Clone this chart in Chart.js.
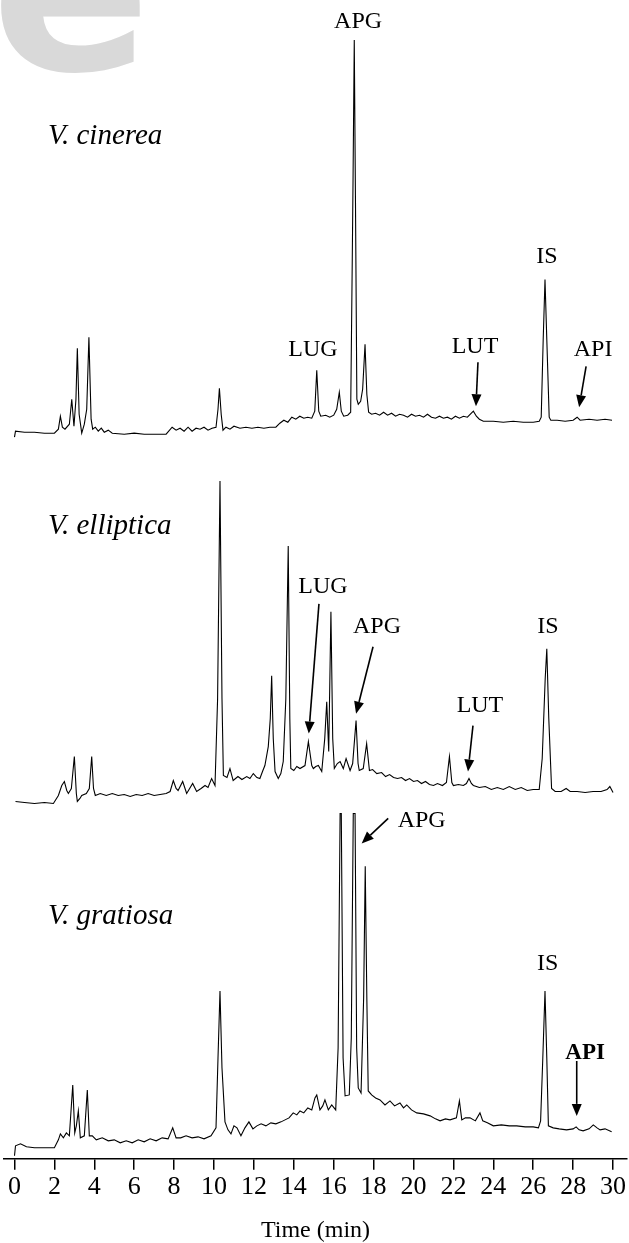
<!DOCTYPE html>
<html><head><meta charset="utf-8">
<script src="https://cdn.jsdelivr.net/npm/chart.js@4.4.1/dist/chart.umd.min.js"></script>
<style>html,body{margin:0;padding:0;background:#fff;}canvas{display:block}</style>
</head><body>
<canvas id="c" width="629" height="1243" style="width:629px;height:1243px"></canvas>
<script>
// ---- Data (time in min, detector signal in arbitrary units above each trace baseline) ----
const xTicks = [0,2,4,6,8,10,12,14,16,18,20,22,24,26,28,30];
const speciesNames = ['V. cinerea','V. elliptica','V. gratiosa'];

const cinereaTime = [0.00,0.05,0.5,1.0,1.5,2.0,2.2,2.3,2.4,2.53,2.75,2.87,2.98,3.08,3.15,3.24,3.37,3.5,3.62,3.73,3.84,3.92,4.05,4.2,4.35,4.5,4.7,4.9,5.5,6.0,6.5,7.0,7.6,7.9,8.1,8.3,8.5,8.7,8.9,9.1,9.3,9.5,9.7,9.9,10.1,10.2,10.27,10.36,10.45,10.6,10.8,11.0,11.3,11.6,11.9,12.2,12.5,12.8,13.1,13.3,13.5,13.7,13.9,14.1,14.3,14.5,14.7,14.9,15.05,15.15,15.25,15.35,15.6,15.8,16.0,16.15,16.28,16.38,16.5,16.7,16.85,16.93,16.97,17.03,17.09,17.16,17.23,17.35,17.45,17.57,17.66,17.75,17.9,18.1,18.3,18.5,18.7,18.9,19.1,19.3,19.5,19.7,19.9,20.1,20.3,20.5,20.7,20.9,21.1,21.3,21.5,21.7,21.9,22.1,22.3,22.5,22.7,22.85,23.0,23.15,23.3,23.5,24.0,24.5,25.0,25.5,26.0,26.3,26.4,26.5,26.59,26.68,26.8,26.88,27.2,27.6,28.0,28.2,28.35,28.8,29.2,29.6,29.95];
const cinereaSignal = [-3,3,2,2,1,1,5,18,7,5,10,35,8,35,86,20,1,10,25,97,15,5,7,3,6,2,4,1,0,1,0,0,0,7,4,6,3,7,3,6,5,7,4,6,7,25,46,20,4,7,5,8,6,7,6,7,6,7,7,11,14,12,17,15,18,16,17,16,23,64,23,18,19,17,19,25,42,23,18,19,22,175,258,395,235,35,30,33,45,90,40,22,20,21,19,22,19,21,18,20,19,17,20,18,19,17,20,17,16,18,16,17,15,18,16,18,17,20,23,18,15,13,13,12,13,12,12,13,17,95,155,95,17,14,14,13,14,17,14,15,14,15,14];

const ellipticaTime = [0.05,0.5,1.0,1.5,1.95,2.2,2.37,2.5,2.62,2.7,2.85,3.0,3.1,3.15,3.28,3.37,3.6,3.75,3.87,3.96,4.05,4.3,4.6,4.9,5.2,5.5,5.8,6.1,6.4,6.7,7.0,7.3,7.6,7.8,7.96,8.1,8.2,8.43,8.63,8.93,9.13,9.35,9.55,9.7,9.88,10.05,10.18,10.3,10.4,10.47,10.65,10.8,10.96,11.2,11.4,11.64,11.8,11.97,12.15,12.3,12.45,12.55,12.72,12.82,12.89,12.97,13.06,13.22,13.35,13.47,13.6,13.72,13.8,13.85,14.0,14.15,14.31,14.56,14.73,14.9,14.98,15.1,15.23,15.4,15.55,15.65,15.75,15.86,15.95,16.03,16.18,16.32,16.48,16.62,16.82,16.95,17.12,17.22,17.28,17.48,17.65,17.79,17.95,18.16,18.4,18.6,18.8,19.0,19.2,19.4,19.6,19.8,20.0,20.2,20.4,20.6,20.8,21.0,21.2,21.45,21.65,21.8,21.92,22.0,22.25,22.5,22.65,22.78,22.9,23.0,23.3,23.6,23.9,24.2,24.5,24.8,25.1,25.4,25.7,26.0,26.3,26.45,26.6,26.68,26.78,26.92,27.1,27.4,27.65,27.85,28.2,28.6,29.0,29.4,29.7,29.84,30.0];
const ellipticaSignal = [-3,-4,-5,-4,-5,3,13,17,8,5,10,42,5,-3,0,3,5,10,42,10,3,5,3,5,3,4,2,4,3,5,3,4,5,7,18,10,8,17,5,15,7,10,13,11,20,13,100,318,100,23,21,30,18,22,19,22,20,25,21,20,28,33,52,80,123,60,27,20,25,37,100,253,80,30,28,32,30,33,57,33,30,32,33,27,60,97,47,187,60,30,35,37,30,40,28,35,78,35,28,30,55,28,29,25,26,22,24,21,20,21,18,20,17,18,15,17,14,13,15,13,16,42,16,13,14,13,15,20,15,13,11,12,9,11,9,12,9,11,8,9,9,40,120,150,80,10,7,7,10,7,7,6,7,7,9,12,6];

const gratiosaTime = [0.00,0.05,0.3,0.6,1.0,1.5,2.0,2.2,2.3,2.45,2.6,2.75,2.92,3.02,3.1,3.2,3.3,3.5,3.65,3.75,3.9,4.1,4.4,4.7,5.0,5.3,5.6,5.9,6.2,6.5,6.8,7.1,7.4,7.7,7.93,8.1,8.33,8.6,8.9,9.2,9.5,9.85,10.1,10.2,10.3,10.4,10.55,10.7,10.85,11.0,11.15,11.35,11.55,11.75,11.95,12.15,12.36,12.6,12.85,13.1,13.36,13.56,13.76,13.97,14.15,14.31,14.5,14.7,14.9,15.06,15.15,15.31,15.45,15.56,15.73,15.9,16.1,16.22,16.32,16.38,16.47,16.57,16.78,16.88,16.98,17.07,17.15,17.23,17.37,17.5,17.58,17.66,17.73,17.9,18.1,18.32,18.57,18.82,19.05,19.32,19.5,19.66,19.9,20.16,20.5,20.83,21.1,21.33,21.6,21.83,22.15,22.3,22.42,22.6,22.83,23.1,23.33,23.47,23.7,24.0,24.4,24.8,25.17,25.6,26.0,26.26,26.37,26.48,26.59,26.68,26.76,27.0,27.3,27.67,28.0,28.15,28.3,28.5,28.8,29.01,29.2,29.35,29.6,29.93];
const gratiosaSignal = [-8,2,4,1,0,0,0,8,14,10,15,12,63,15,22,37,10,12,58,12,12,8,10,7,8,5,7,5,8,6,9,7,10,9,20,10,10,12,10,11,9,12,20,90,157,80,26,18,14,22,20,12,20,26,19,22,24,22,25,24,26,28,30,35,33,37,35,40,38,50,53,38,42,48,38,43,38,100,335,335,90,52,53,110,335,335,100,60,55,150,282,150,57,53,50,48,43,47,42,45,40,43,38,35,34,32,29,27,29,28,30,47,28,30,30,27,35,27,25,22,23,22,22,21,21,20,27,90,157,90,22,20,19,18,19,21,18,17,19,23,20,18,19,16];

// ---- Annotation layout (separate from data) ----
const baselinePx = [435, 800, 1150];   // where each trace's zero sits on the canvas
const plotBottomPx = 1161;

const textMarks = [
  {axis:'y1', text:speciesNames[0], t:1.68, s:298, italic:true},
  {axis:'y1', text:'APG', t:17.22, s:413},
  {axis:'y1', text:'LUG', t:14.96, s:85},
  {axis:'y1', text:'IS',  t:26.69, s:178},
  {axis:'y1', text:'LUT', t:23.08, s:88},
  {axis:'y1', text:'API', t:29.0,  s:85},
  {axis:'y2', text:speciesNames[1], t:1.68, s:273, italic:true},
  {axis:'y2', text:'LUG', t:15.46, s:212},
  {axis:'y2', text:'APG', t:18.17, s:172},
  {axis:'y2', text:'IS',  t:26.74, s:172},
  {axis:'y2', text:'LUT', t:23.33, s:93},
  {axis:'y3', text:speciesNames[2], t:1.68, s:232, italic:true},
  {axis:'y3', text:'APG', t:20.41, s:328},
  {axis:'y3', text:'IS',  t:26.72, s:184},
  {axis:'y3', text:'API', t:28.6,  s:95, bold:true}
];
const arrowMarks = [
  {axis:'y1', from:[23.23,72], to:[23.13,28]},
  {axis:'y1', from:[28.65,68], to:[28.3,27]},
  {axis:'y2', from:[15.26,195], to:[14.75,65]},
  {axis:'y2', from:[17.97,152], to:[17.12,85]},
  {axis:'y2', from:[22.98,73], to:[22.73,27]},
  {axis:'y3', from:[18.73,330], to:[17.4,305]},
  {axis:'y3', from:[28.18,87], to:[28.18,32]}
];

const SERIF = '"Liberation Serif", "Times New Roman", Times, serif';

function pts(ts, ss){ return ts.map((t,i)=>({x:t, y:ss[i]})); }

const annotPlugin = {
  id:'annot',
  beforeDatasetsDraw(chart){
    const ctx = chart.ctx;
    ctx.save();
    ctx.fillStyle = '#d9d9d9';
    ctx.font = 'bold 236px "DejaVu Sans"';
    ctx.textBaseline = 'alphabetic';
    ctx.textAlign = 'left';
    ctx.fillText('e', -9, 70);
    ctx.restore();
  },
  afterDatasetsDraw(chart){
    const ctx = chart.ctx, xs = chart.scales.x;
    ctx.save();
    ctx.fillStyle = '#000';
    ctx.strokeStyle = '#000';
    ctx.textBaseline = 'middle';
    textMarks.forEach(m=>{
      const ys = chart.scales[m.axis];
      const x = xs.getPixelForValue(m.t), y = ys.getPixelForValue(m.s);
      if (m.italic){ ctx.font = 'italic 29px ' + SERIF; ctx.textAlign = 'left'; }
      else if (m.bold){ ctx.font = 'bold 23px ' + SERIF; ctx.textAlign = 'center'; }
      else { ctx.font = '24px ' + SERIF; ctx.textAlign = 'center'; }
      ctx.fillText(m.text, x, y);
    });
    arrowMarks.forEach(a=>{
      const ys = chart.scales[a.axis];
      const x1 = xs.getPixelForValue(a.from[0]), y1 = ys.getPixelForValue(a.from[1]);
      const x2 = xs.getPixelForValue(a.to[0]), y2 = ys.getPixelForValue(a.to[1]);
      const ang = Math.atan2(y2-y1, x2-x1), L = 12, W = 5;
      const bx = x2 - L*Math.cos(ang), by = y2 - L*Math.sin(ang);
      ctx.lineWidth = 1.6;
      ctx.beginPath(); ctx.moveTo(x1,y1); ctx.lineTo(bx,by); ctx.stroke();
      ctx.beginPath();
      ctx.moveTo(x2,y2);
      ctx.lineTo(bx + W*Math.sin(ang), by - W*Math.cos(ang));
      ctx.lineTo(bx - W*Math.sin(ang), by + W*Math.cos(ang));
      ctx.closePath(); ctx.fill();
    });
    ctx.restore();
  }
};

const yScale = (i)=>({type:'linear', display:false, min: baselinePx[i]-plotBottomPx, max: baselinePx[i]});

new Chart(document.getElementById('c'), {
  type:'line',
  data:{
    datasets:[
      {label:speciesNames[0], data:pts(cinereaTime,cinereaSignal), yAxisID:'y1'},
      {label:speciesNames[1], data:pts(ellipticaTime,ellipticaSignal), yAxisID:'y2'},
      {label:speciesNames[2], data:pts(gratiosaTime,gratiosaSignal), yAxisID:'y3'}
    ].map(d=>Object.assign(d,{xAxisID:'x', borderColor:'#000', borderWidth:1.1, pointRadius:0, tension:0, fill:false}))
  },
  options:{
    responsive:false, devicePixelRatio:1, animation:false,
    layout:{padding:{left:4,right:2,top:0,bottom:0}},
    plugins:{legend:{display:false}, tooltip:{enabled:false}},
    scales:{
      x:{type:'linear', position:'bottom', min:-0.526, max:30.7,
        afterBuildTicks:(s)=>{ s.ticks = xTicks.map(v=>({value:v})); },
        ticks:{color:'#000', font:{family:SERIF, size:26, lineHeight:1.2}, padding:2, maxRotation:0, autoSkip:false},
        grid:{drawOnChartArea:false, drawTicks:true, tickLength:11, color:'#000', lineWidth:1.5},
        border:{display:true, color:'#000', width:1.5},
        title:{display:true, text:'Time (min)', color:'#000', font:{family:SERIF, size:24, lineHeight:1}, padding:{top:14,bottom:0}}
      },
      y1: yScale(0), y2: yScale(1), y3: yScale(2)
    }
  },
  plugins:[annotPlugin]
});
</script>
</body></html>
